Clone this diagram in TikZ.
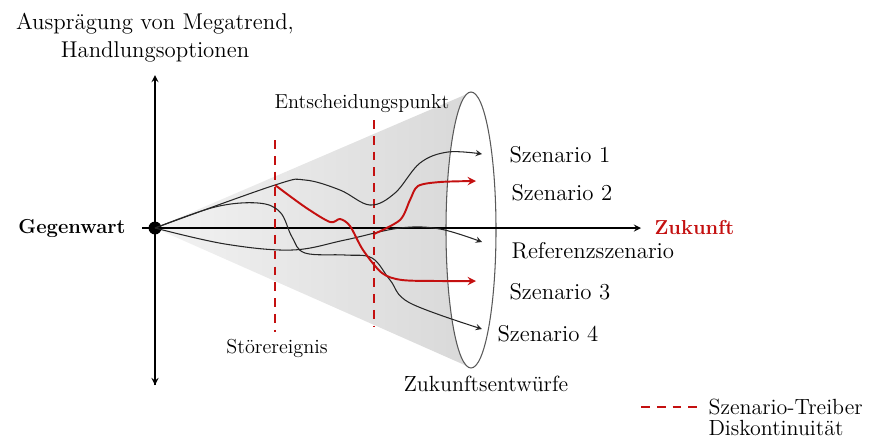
\documentclass[tikz,border=0pt]{standalone}
\usepackage{tikz}
\usepackage{xcolor}
\definecolor{zred}{RGB}{196,16,16}

\begin{document}
\begin{tikzpicture}[x=0.02cm, y=-0.02cm, thick, >=stealth,
    lbl/.style={font=\fontsize{13}{15}\selectfont, anchor=west},
    driver/.style={zred, dashed, line width=1.1pt, dash pattern=on 5pt off 4pt},
    path/.style={->, semithick, black!85},
    redpath/.style={->, zred, line width=1.1pt}]
    \useasboundingbox (0,0) rectangle (876,441);
    % Cone of possible futures
    \shade[left color=gray!10, right color=gray!30]
        (155,228) -- plot[domain=100:260, samples=40] ({471+25*cos(\x)}, {230-138*sin(\x)}) -- cycle;
    \draw[gray!70!black, semithick] (471,230) ellipse [x radius=25, y radius=138];
    % Axes
    \draw[->] (155,385) -- (155,75);
    \draw[<-] (155,385) -- (155,300);
    \draw[->] (142,228) -- (641,228);
    \node[circle, fill, inner sep=2.6pt] (o) at (155,228) {};
    \node[anchor=east, font=\fontsize{11.5}{15}\selectfont\bfseries] (now) at (132,228) {Gegenwart};
    \node[anchor=west, zred, font=\fontsize{11.5}{15}\selectfont\bfseries] (fut) at (648,227) {Zukunft};
    \node[align=center, font=\fontsize{13}{16}\selectfont] (yl) at (155,38)
        {Ausprägung von Megatrend,\\Handlungsoptionen};
    % Driver lines
    \draw[driver] (275,140) -- (275,332);
    \draw[driver] (374,120) -- (374,327);
    \node[font=\fontsize{11.5}{14}\selectfont] (dist) at (277,348) {Störereignis};
    \node[font=\fontsize{11.5}{14}\selectfont] (dec) at (362,104) {Entscheidungspunkt};
    % Scenario end points
    \coordinate (e1) at (482,154);
    \coordinate (e2) at (476,181);
    \coordinate (er) at (482,242);
    \coordinate (e3) at (476,281);
    \coordinate (e4) at (482,329);
    \coordinate (k1) at (275,185);
    \coordinate (k2) at (374,234);
    % Paths
    \draw[path] plot[smooth, tension=0.6] coordinates
        {(o) (k1) (305,180) (340,190) (370,205) (395,193) (420,163) (448,152) (e1)};
    \draw[path] plot[smooth, tension=0.6] coordinates
        {(o) (225,244) (292,250) (345,240) (400,228) (440,229) (er)};
    \draw[path] plot[smooth, tension=0.6] coordinates
        {(o) (215,207) (258,203) (280,212) (292,237) (305,253) (345,255) (372,258) (390,280) (410,303) (e4)};
    \draw[redpath] plot[smooth, tension=0.5] coordinates
        {(k1) (305,207) (330,222) (340,219) (350,226) (363,250) (382,273) (402,280) (440,281) (e3)};
    \draw[redpath] plot[smooth, tension=0.5] coordinates
        {(k2) (400,220) (410,200) (418,186) (440,182) (e2)};
    % Labels
    \node[lbl] (s1) at (503,155) {Szenario 1};
    \node[lbl] (s2) at (505,193) {Szenario 2};
    \node[lbl] (sr) at (505,251) {Referenzszenario};
    \node[lbl] (s3) at (503,292) {Szenario 3};
    \node[lbl] (s4) at (491,334) {Szenario 4};
    \node[font=\fontsize{12.5}{15}\selectfont] (zew) at (486,384) {Zukunftsentwürfe};
    % Legend
    \draw[driver] (641,407) -- (697,407);
    \node[lbl, font=\fontsize{12.5}{15}\selectfont] (leg) at (702,407) {Szenario-Treiber};
    \node[lbl, font=\fontsize{12.5}{15}\selectfont] (leg2) at (702,428) {Diskontinuität};
\end{tikzpicture}
\end{document}
